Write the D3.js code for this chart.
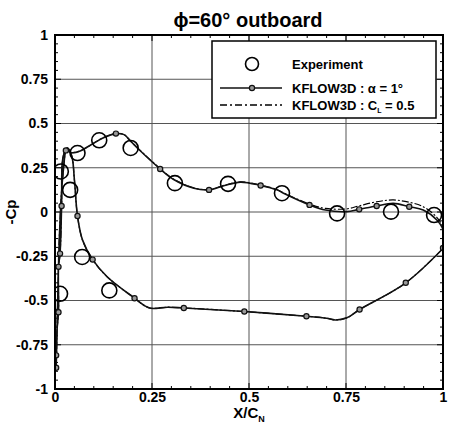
<!DOCTYPE html>
<html><head><meta charset="utf-8">
<script src="https://cdn.jsdelivr.net/npm/d3@7"></script>
<style>body{margin:0;background:#fff}svg{display:block}text{font-family:"Liberation Sans",Arial,sans-serif;font-weight:bold;fill:#000}</style>
</head><body><svg id="c" width="449" height="427"></svg>
<script>
// ---- data ----
const xTicks = [0, 0.25, 0.5, 0.75, 1];
const xTickLabels = ["0", "0.25", "0.5", "0.75", "1"];
const yTicks = [-1, -0.75, -0.5, -0.25, 0, 0.25, 0.5, 0.75, 1];
const yTickLabels = ["-1", "-0.75", "-0.5", "-0.25", "0", "0.25", "0.5", "0.75", "1"];

// Experiment
const expX = [0.013, 0.015, 0.039, 0.058, 0.114, 0.195, 0.309, 0.446, 0.585, 0.727, 0.866, 0.977, 0.070, 0.140];
const expY = [-0.462, 0.229, 0.125, 0.333, 0.405, 0.362, 0.163, 0.159, 0.106, -0.008, 0.002, -0.017, -0.254, -0.443];

// KFLOW3D alpha = 1 deg : closed path (upper surface TE->LE, then lower surface LE->TE)
const kfX = [1.0, 1.0, 0.984, 0.949, 0.913, 0.872, 0.829, 0.784, 0.752, 0.697, 0.656, 0.589, 0.572, 0.53, 0.478, 0.435, 0.397, 0.358, 0.307, 0.271, 0.221, 0.195, 0.178, 0.157, 0.125, 0.093, 0.065, 0.043, 0.028, 0.020, 0.017, 0.013, 0.009, 0.009, 0.005, 0.003, 0.003,
  0.005, 0.008, 0.012, 0.020, 0.031, 0.043, 0.050, 0.058, 0.071, 0.097, 0.135, 0.205, 0.23, 0.247, 0.29, 0.332, 0.488, 0.648, 0.70, 0.722, 0.752, 0.785, 0.904, 1.0];
const kfY = [-0.203, -0.10, -0.045, 0.011, 0.030, 0.049, 0.034, 0.015, 0.002, 0.011, 0.04, 0.106, 0.125, 0.15, 0.169, 0.148, 0.125, 0.134, 0.182, 0.243, 0.343, 0.40, 0.437, 0.443, 0.42, 0.38, 0.345, 0.335, 0.348, 0.30, 0.034, -0.235, -0.31, -0.566, -0.67, -0.81, -0.88,
  -0.70, -0.40, -0.10, 0.20, 0.362, 0.318, 0.182, -0.023, -0.159, -0.269, -0.367, -0.487, -0.528, -0.544, -0.538, -0.542, -0.5625, -0.589, -0.60, -0.61, -0.598, -0.551, -0.40, -0.206];
// marker points of the KFLOW3D alpha = 1 deg curve
const mkX = [1.0, 0.913, 0.829, 0.784, 0.656, 0.53, 0.397, 0.271, 0.157, 0.028, 0.017, 0.013, 0.009, 0.009, 0.003, 0.003, 0.058, 0.097, 0.205, 0.332, 0.488, 0.648, 0.785, 0.904];
const mkY = [-0.203, 0.030, 0.034, 0.015, 0.04, 0.15, 0.125, 0.243, 0.443, 0.348, 0.034, -0.235, -0.31, -0.566, -0.81, -0.88, -0.023, -0.269, -0.487, -0.542, -0.5625, -0.589, -0.551, -0.40];

// KFLOW3D CL = 0.5 (dash-dot), nearly coincident
const clX = [1.0, 1.0, 0.984, 0.949, 0.913, 0.872, 0.829, 0.784, 0.752, 0.697, 0.656, 0.589, 0.572, 0.53, 0.478, 0.435, 0.397, 0.358, 0.307, 0.271, 0.221, 0.195, 0.178, 0.157, 0.125, 0.093, 0.065, 0.043, 0.028, 0.020, 0.017, 0.013, 0.009, 0.009, 0.005, 0.003, 0.003,
  0.005, 0.008, 0.012, 0.020, 0.031, 0.043, 0.050, 0.058, 0.071, 0.097, 0.135, 0.205, 0.23, 0.247, 0.29, 0.332, 0.488, 0.648, 0.70, 0.722, 0.752, 0.785, 0.904, 1.0];
const clY = [-0.203, -0.09, -0.03, 0.030, 0.055, 0.068, 0.058, 0.035, 0.018, 0.020, 0.045, 0.108, 0.127, 0.152, 0.170, 0.150, 0.127, 0.136, 0.184, 0.245, 0.345, 0.40, 0.437, 0.443, 0.42, 0.38, 0.345, 0.335, 0.348, 0.30, 0.034, -0.235, -0.31, -0.566, -0.67, -0.81, -0.88,
  -0.70, -0.40, -0.10, 0.20, 0.362, 0.318, 0.182, -0.023, -0.159, -0.269, -0.367, -0.487, -0.528, -0.544, -0.538, -0.542, -0.5625, -0.589, -0.60, -0.61, -0.598, -0.551, -0.40, -0.206];

// ---- drawing ----
const svg = d3.select("#c");
const L = 55, R = 443, T = 35, B = 389;
const x = d3.scaleLinear().domain([0, 1]).range([L, R]);
const y = d3.scaleLinear().domain([-1, 1]).range([B, T]);

// grid
const g = svg.append("g");
g.selectAll(".gx").data(xTicks.slice(1, -1)).enter().append("line")
  .attr("x1", d => x(d)).attr("x2", d => x(d)).attr("y1", T).attr("y2", B)
  .attr("stroke", "#555").attr("stroke-width", 1);
g.selectAll(".gy").data(yTicks.slice(1, -1)).enter().append("line")
  .attr("y1", d => y(d)).attr("y2", d => y(d)).attr("x1", L).attr("x2", R)
  .attr("stroke", "#555").attr("stroke-width", 1);

// minor/major ticks on all sides (inside)
const minorX = d3.range(0, 1.0001, 0.05);
const minorY = d3.range(-1, 1.0001, 0.05);
const tickLen = v => (Math.abs(v * 4 - Math.round(v * 4)) < 1e-6 ? 6 : 3);
const ax = svg.append("g").attr("stroke", "#000").attr("stroke-width", 1);
minorX.forEach(v => {
  ax.append("line").attr("x1", x(v)).attr("x2", x(v)).attr("y1", B).attr("y2", B - tickLen(v));
  ax.append("line").attr("x1", x(v)).attr("x2", x(v)).attr("y1", T).attr("y2", T + tickLen(v));
});
minorY.forEach(v => {
  ax.append("line").attr("y1", y(v)).attr("y2", y(v)).attr("x1", L).attr("x2", L + tickLen(v));
  ax.append("line").attr("y1", y(v)).attr("y2", y(v)).attr("x1", R).attr("x2", R - tickLen(v));
});

// axes labels via d3 axes (no lines)
const xa = svg.append("g").attr("transform", `translate(0,${B})`)
  .call(d3.axisBottom(x).tickValues(xTicks).tickFormat((d, i) => xTickLabels[i]).tickSize(0).tickPadding(3));
xa.select(".domain").remove();
xa.selectAll("text").attr("font-size", 14).attr("font-family", "Liberation Sans, Arial").attr("font-weight", "bold").attr("fill", "#000");
const ya = svg.append("g").attr("transform", `translate(${L},0)`)
  .call(d3.axisLeft(y).tickValues(yTicks).tickFormat((d, i) => yTickLabels[i]).tickSize(0).tickPadding(7));
ya.select(".domain").remove();
ya.selectAll("text").attr("font-size", 14).attr("font-family", "Liberation Sans, Arial").attr("font-weight", "bold").attr("fill", "#000");

// clip
svg.append("clipPath").attr("id", "clip").append("rect").attr("x", L).attr("y", T).attr("width", R - L).attr("height", B - T);
const plot = svg.append("g").attr("clip-path", "url(#clip)");

const line = d3.line().x(d => x(d[0])).y(d => y(d[1])).curve(d3.curveCatmullRom.alpha(0.5));
plot.append("path").datum(clX.map((v, i) => [v, clY[i]])).attr("d", line)
  .attr("fill", "none").attr("stroke", "#000").attr("stroke-width", 1.2).attr("stroke-dasharray", "7,2,2,2");
plot.append("path").datum(kfX.map((v, i) => [v, kfY[i]])).attr("d", line)
  .attr("fill", "none").attr("stroke", "#111").attr("stroke-width", 1.6);
plot.selectAll(".mk").data(mkX.map((v, i) => [v, mkY[i]])).enter().append("circle")
  .attr("cx", d => x(d[0])).attr("cy", d => y(d[1])).attr("r", 2.6)
  .attr("fill", "#999").attr("stroke", "#111").attr("stroke-width", 1.2);
plot.selectAll(".ex").data(expX.map((v, i) => [v, expY[i]])).enter().append("circle")
  .attr("cx", d => x(d[0])).attr("cy", d => y(d[1])).attr("r", 7.5)
  .attr("fill", "none").attr("stroke", "#000").attr("stroke-width", 1.6);

// frame
svg.append("rect").attr("x", L).attr("y", T).attr("width", R - L).attr("height", B - T)
  .attr("fill", "none").attr("stroke", "#000").attr("stroke-width", 2);

// title
svg.append("text").attr("x", 248).attr("y", 27).attr("text-anchor", "middle").attr("font-size", 20)
  .text("ϕ=60° outboard");

// axis titles
const xt = svg.append("text").attr("x", 249).attr("y", 418).attr("text-anchor", "middle").attr("font-size", 15);
xt.append("tspan").text("X/C");
xt.append("tspan").attr("font-size", 9).attr("dy", 4).text("N");
svg.append("text").attr("transform", "translate(16,212) rotate(-90)").attr("text-anchor", "middle").attr("font-size", 15).text("-Cp");

// legend
const lg = svg.append("g");
lg.append("rect").attr("x", 212).attr("y", 41).attr("width", 224).attr("height", 77)
  .attr("fill", "#fff").attr("stroke", "#000").attr("stroke-width", 1.5);
lg.append("circle").attr("cx", 252).attr("cy", 64).attr("r", 6.5).attr("fill", "none").attr("stroke", "#000").attr("stroke-width", 1.6);
lg.append("line").attr("x1", 220).attr("x2", 282).attr("y1", 88).attr("y2", 88).attr("stroke", "#111").attr("stroke-width", 1.6);
lg.append("circle").attr("cx", 252).attr("cy", 88).attr("r", 2.6).attr("fill", "#999").attr("stroke", "#111").attr("stroke-width", 1.2);
lg.append("line").attr("x1", 220).attr("x2", 282).attr("y1", 105).attr("y2", 105).attr("stroke", "#000").attr("stroke-width", 1.4).attr("stroke-dasharray", "7,3,2,3");
lg.append("text").attr("x", 292).attr("y", 69).attr("font-size", 13).text("Experiment");
lg.append("text").attr("x", 292).attr("y", 93).attr("font-size", 13).text("KFLOW3D : α = 1°");
const t3 = lg.append("text").attr("x", 292).attr("y", 110).attr("font-size", 13);
t3.append("tspan").text("KFLOW3D : C");
t3.append("tspan").attr("font-size", 7).attr("dy", 3).text("L");
t3.append("tspan").attr("dy", -3).text(" = 0.5");
</script></body></html>
